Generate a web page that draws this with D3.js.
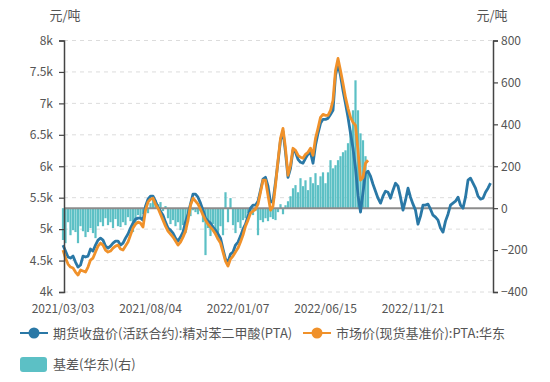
<!DOCTYPE html>
<html><head><meta charset="utf-8">
<script src="https://cdn.jsdelivr.net/npm/d3@7"></script>
<style>
body{margin:0;background:#fff}
svg{display:block}
text{font-family:"Noto Sans CJK SC","Noto Sans",sans-serif}
</style>
</head><body>
<svg id="chart" width="550" height="382"></svg>
<script>
const dateLabels = ["2021/03/03","2021/08/04","2022/01/07","2022/06/15","2022/11/21"];
const labelIndex = [0,35,70,105,140];

// 期货收盘价(活跃合约):精对苯二甲酸(PTA) — sampled every ~3 trading days
const futures = [
 4746,4651,4556,4540,4571,4476,4397,4429,4571,4556,
 4571,4683,4651,4746,4825,4857,4825,4730,4698,4730,
 4778,4810,4810,4746,4778,4857,4921,5016,5095,5159,
 5175,5175,5143,5365,5476,5524,5524,5444,5349,5286,
 5222,5111,5016,4984,4937,4857,4810,4873,4952,5111,
 5238,5397,5556,5556,5508,5413,5302,5175,5127,5095,
 5032,4984,4921,4857,4683,4524,4476,4603,4635,4746,
 4794,4889,5000,5079,5206,5333,5381,5381,5444,5619,
 5794,5825,5683,5429,5444,5746,6063,6413,6556,6222,
 5825,5968,6254,6222,6111,6063,6048,6127,6190,6222,
 6048,6333,6524,6683,6746,6746,6762,6825,6889,7444,
 7635,7444,7206,7000,6778,6524,6286,5968,5540,5270,
 5587,5889,5921,5841,5714,5603,5492,5413,5524,5603,
 5587,5492,5619,5730,5683,5508,5302,5460,5651,5508,
 5397,5302,5079,5206,5381,5381,5397,5317,5222,5190,
 5143,5016,4952,5127,5238,5381,5413,5444,5508,5381,
 5333,5508,5778,5810,5730,5651,5524,5476,5492,5587,
 5651,5730
];

// 市场价(现货基准价):PTA:华东
const spot = [
 4667,4540,4444,4397,4381,4317,4270,4349,4333,4317,
 4397,4508,4540,4635,4730,4778,4746,4667,4635,4651,
 4698,4730,4746,4683,4667,4730,4794,4905,5016,5079,
 5111,5095,5032,5302,5429,5476,5492,5397,5333,5238,
 5143,5048,4968,4921,4873,4810,4746,4794,4873,4968,
 5143,5381,5492,5444,5397,5317,5222,5143,5079,5032,
 4984,4921,4841,4778,4635,4492,4413,4524,4571,4635,
 4698,4794,4905,5048,5143,5254,5286,5317,5397,5587,
 5778,5778,5540,5302,5365,5698,6095,6444,6603,6286,
 5857,6016,6286,6254,6175,6143,6127,6190,6222,6286,
 6175,6444,6603,6778,6825,6810,6810,6889,7048,7524,
 7714,7524,7317,7095,6921,6778,6698,6651,6254,5778,
 5825,6048,6095
];

// 基差(华东)(右)
const basis = [
 -152,-167,-67,-129,-105,-114,-167,-86,-110,-138,
 -114,-95,-119,-143,-86,-67,-86,-48,-81,-67,
 -95,-52,-86,-90,-67,-81,-43,-62,-114,-76,
 -33,-48,-29,-10,-24,24,57,38,19,29,
 -14,10,-48,-76,-57,-86,-67,-105,-81,-119,
 -67,-38,-10,-19,-29,-14,-67,-224,-95,-133,
 -76,-105,-152,-86,-129,76,-67,48,-81,-119,
 -67,-95,-57,-48,-24,-19,-33,-14,-129,-57,
 -67,-48,-62,-43,-52,-57,-19,19,-29,14,
 33,57,95,110,76,143,105,133,86,148,
 119,167,110,152,171,119,171,229,190,205,
 229,248,267,276,310,371,467,610,467,357,
 324,248,181
];

const leftTicks = [4000,4500,5000,5500,6000,6500,7000,7500,8000];
const leftTickLabels = ["4k","4.5k","5k","5.5k","6k","6.5k","7k","7.5k","8k"];
const rightTicks = [-400,-200,0,200,400,600,800];
const seriesNames = ["期货收盘价(活跃合约):精对苯二甲酸(PTA)","市场价(现货基准价):PTA:华东","基差(华东)(右)"];
const unitLabel = "元/吨";

const C_BLUE = "#2a78a6", C_ORANGE = "#f0912a", C_TEAL = "#5cc0c5";

const svg = d3.select("#chart");
const x = d3.scaleLinear().domain([0,172]).range([63,493]);
const yL = d3.scaleLinear().domain([4000,8000]).range([292,40.5]);
const yR = d3.scaleLinear().domain([-400,800]).range([292,40.5]);
const X0 = 64, X1 = 493;

// gridlines
svg.append("g").selectAll("line").data(leftTicks).join("line")
  .attr("x1",X0).attr("x2",X1)
  .attr("y1",d=>yL(d)).attr("y2",d=>yL(d))
  .attr("stroke","#dcdcdc").attr("stroke-width",1).attr("stroke-dasharray","4,4");

// basis bars
svg.append("g").selectAll("rect").data(basis).join("rect")
  .attr("x",(d,i)=>x(i)-1.1).attr("width",2.2)
  .attr("y",d=>Math.min(yR(d),yR(0)))
  .attr("height",d=>Math.abs(yR(d)-yR(0)))
  .attr("fill",C_TEAL);

// zero line
svg.append("line").attr("x1",X0).attr("x2",X1)
  .attr("y1",yR(0)).attr("y2",yR(0))
  .attr("stroke","#8c8c8c").attr("stroke-width",2);

const line = d3.line().x((d,i)=>x(i)).y(d=>yL(d));
svg.append("path").datum(futures).attr("d",line)
  .attr("fill","none").attr("stroke",C_BLUE).attr("stroke-width",2.8).attr("stroke-linejoin","round");
svg.append("path").datum(spot).attr("d",line)
  .attr("fill","none").attr("stroke",C_ORANGE).attr("stroke-width",2.8).attr("stroke-linejoin","round");

// axes
function styleAxis(g){
  g.select(".domain").attr("stroke","#444").attr("stroke-width",1.5);
  g.selectAll(".tick line").attr("stroke","#444").attr("stroke-width",1.2);
  g.selectAll(".tick text").attr("fill","#555").style("font-size","12px")
   .style("font-family",'"Noto Sans CJK SC","Noto Sans",sans-serif');
}
svg.append("g").attr("transform",`translate(${X0},0)`)
  .call(d3.axisLeft(yL).tickValues(leftTicks).tickFormat((d,i)=>leftTickLabels[i]).tickSizeOuter(0).tickSize(5).tickPadding(6))
  .call(styleAxis);
svg.append("g").attr("transform",`translate(${X1},0)`)
  .call(d3.axisRight(yR).tickValues(rightTicks).tickSizeOuter(0).tickSize(5).tickPadding(3))
  .call(styleAxis);

// x labels
svg.append("g").selectAll("text").data(dateLabels).join("text")
  .attr("x",(d,i)=>x(labelIndex[i])).attr("y",313)
  .attr("text-anchor","middle").attr("fill","#555").style("font-size","12px").text(d=>d);

// units
svg.append("text").attr("x",65).attr("y",20).attr("text-anchor","middle")
  .attr("fill","#555").style("font-size","13px").text(unitLabel);
svg.append("text").attr("x",492).attr("y",20).attr("text-anchor","middle")
  .attr("fill","#555").style("font-size","13px").text(unitLabel);

// legend
const lg = svg.append("g");
const items = [
  {name:seriesNames[0], color:C_BLUE, lx:20, y:333},
  {name:seriesNames[1], color:C_ORANGE, lx:303, y:333}
];
items.forEach(it=>{
  lg.append("line").attr("x1",it.lx).attr("x2",it.lx+28).attr("y1",it.y).attr("y2",it.y)
    .attr("stroke",it.color).attr("stroke-width",2);
  lg.append("circle").attr("cx",it.lx+14).attr("cy",it.y).attr("r",5.5).attr("fill",it.color);
  lg.append("text").attr("x",it.lx+33).attr("y",it.y+4.5).attr("fill","#555")
    .style("font-size","13px").text(it.name);
});
lg.append("rect").attr("x",20).attr("y",357).attr("width",27).attr("height",15).attr("rx",3)
  .attr("fill",C_TEAL);
lg.append("text").attr("x",53).attr("y",369).attr("fill","#555").style("font-size","13px").text(seriesNames[2]);
</script>
</body></html>
